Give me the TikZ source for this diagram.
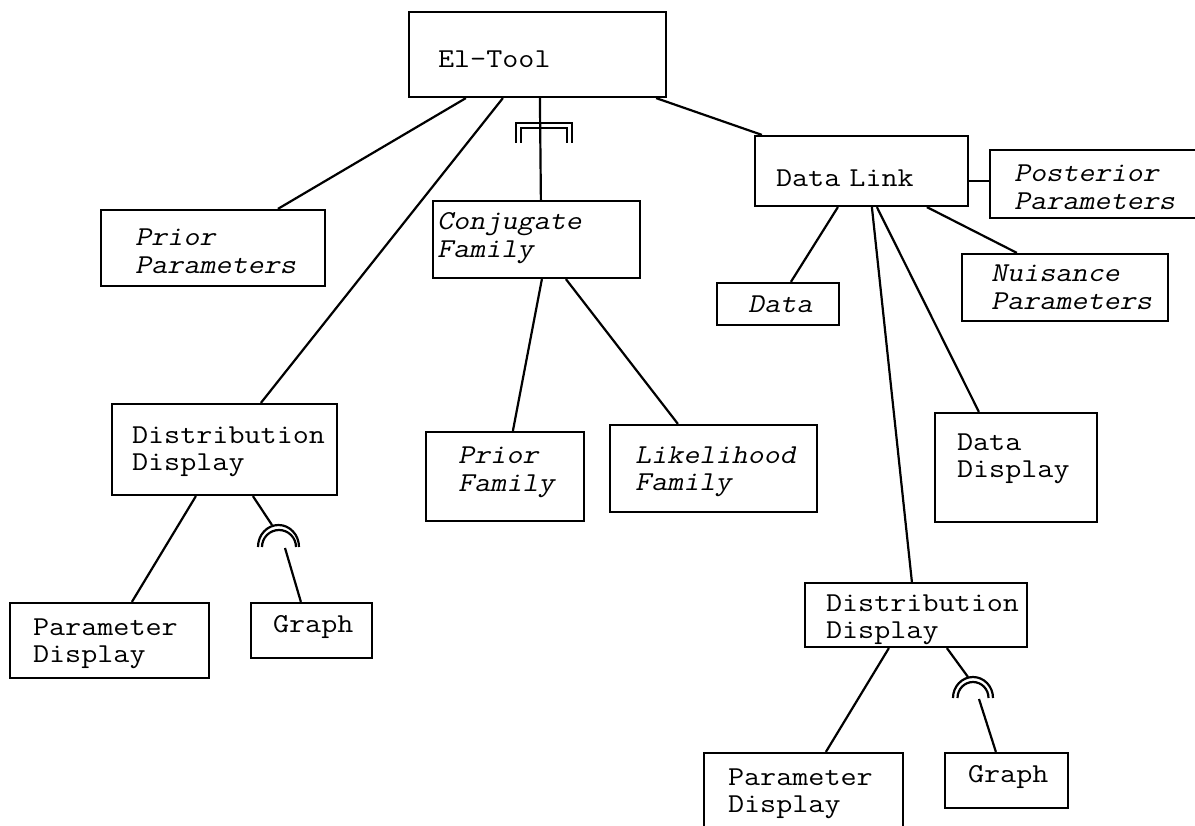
\documentclass[tikz,border=0pt]{standalone}
\usepackage{fontspec}
\newfontfamily\cour[FakeStretch=1.144]{Latin Modern Mono}
\newfontfamily\courit[FakeStretch=1.144,FakeSlant=0.21]{Latin Modern Mono}
\usetikzlibrary{calc}
\hyphenpenalty=10000
\exhyphenpenalty=10000
\begin{document}
\begin{tikzpicture}[x=1pt,y=-1pt,
  box/.style={draw, line width=2.2pt, inner ysep=0pt, align=left,
    font=\cour\fontsize{27.3}{27.5}\selectfont},
  itbox/.style={box, font=\courit\fontsize{27.3}{27.5}\selectfont},
  ln/.style={line width=2.2pt}]
\path[use as bounding box] (0,0) rectangle (1195,826);
\clip (0,0) rectangle (1195,826);

% boxes
\node[box, inner xsep=29pt, text width=199pt, text height=56pt, text depth=29pt] (eltool) at (537.5,54.5) {El-Tool};
\node[itbox, inner xsep=34pt, text width=156pt, text height=36pt, text depth=40pt] (priorp) at (213,248) {Prior\\Parameters};
\node[itbox, inner xsep=4pt, text width=199pt, text height=29pt, text depth=48pt] (conj) at (536.5,239.5) {Conjugate\\Family};
\node[box, inner xsep=21pt, text width=171pt, text height=51pt, text depth=19pt] (datalink) at (861.5,171) {Data~Link};
\node[itbox, inner xsep=24pt, text width=167pt, text height=32pt, text depth=36pt] (post) at (1097.5,184) {Posterior\\Parameters};
\node[itbox, inner xsep=29pt, text width=148pt, text height=28pt, text depth=39pt] (nuis) at (1065,287.5) {Nuisance\\Parameters};
\node[itbox, inner xsep=31pt, text width=60pt, text height=30pt, text depth=12pt] (data) at (778,304) {Data};
\node[box, inner xsep=20pt, text width=185pt, text height=39pt, text depth=52pt] (ddl) at (224.5,449.5) {Distribution\\Display};
\node[itbox, inner xsep=32pt, text width=94pt, text height=32pt, text depth=57pt] (pfam) at (505,476.5) {Prior\\Family};
\node[itbox, inner xsep=25pt, text width=157pt, text height=38pt, text depth=49pt] (lfam) at (713.5,468.5) {Likelihood\\Family};
\node[box, inner xsep=22pt, text width=118pt, text height=37pt, text depth=72pt] (ddisp) at (1016,467.5) {Data\\Display};
\node[box, inner xsep=21pt, text width=180pt, text height=28pt, text depth=36pt] (ddr) at (916,615) {Distribution\\Display};
\node[box, inner xsep=23pt, text width=153pt, text height=32pt, text depth=43pt] (pdl) at (109.5,640.5) {Parameter\\Display};
\node[box, inner xsep=22pt, text width=77pt, text height=29pt, text depth=26pt] (gl) at (311.5,630.5) {Graph};
\node[box, inner xsep=24pt, text width=151pt, text height=32pt, text depth=55pt] (pdr) at (803.5,796.5) {Parameter\\Display};
\node[box, inner xsep=23pt, text width=77pt, text height=29pt, text depth=26pt] (gr) at (1006.5,780.5) {Graph};

% connectors from El-Tool
\draw[ln] ($(eltool.south west)+(58,0)$) -- ($(priorp.north west)+(178,0)$);
\draw[ln] ($(eltool.south west)+(95,0)$) -- ($(ddl.north west)+(150,0)$);
\draw[ln] ($(eltool.south west)+(132,0)$) -- ($(conj.north west)+(109,0)$);
\draw[ln] ($(eltool.south east)+(-11,0)$) -- ($(datalink.north west)+(8,0)$);
% conjugate mark
\draw[ln] (516,143) -- (516,123) -- (572,123) -- (572,143);
\draw[ln] (521,143) -- (521,128) -- (567,128) -- (567,143);

% from Conjugate Family
\draw[ln] ($(conj.south west)+(110,0)$) -- ($(pfam.north west)+(88,0)$);
\draw[ln] ($(conj.south west)+(134,0)$) -- ($(lfam.north west)+(69,0)$);

% from Data Link
\draw[ln] ($(datalink.north east)+(0,46)$) -- ($(post.north west)+(0,32)$);
\draw[ln] ($(datalink.south west)+(84,0)$) -- ($(data.north west)+(75,0)$);
\draw[ln] ($(datalink.south west)+(118,0)$) -- ($(ddr.north west)+(108,0)$);
\draw[ln] ($(datalink.south west)+(123,0)$) -- ($(ddisp.north west)+(45,0)$);
\draw[ln] ($(datalink.south west)+(173,0)$) -- ($(nuis.north west)+(56,0)$);

% left distribution display
\coordinate (arcLtop) at (272,525);
\coordinate (arcLbot) at (285,548);
\draw[ln] ($(ddl.south west)+(85,0)$) -- ($(pdl.north west)+(123,0)$);
\draw[ln] ($(ddl.south west)+(142,0)$) -- (arcLtop);
\draw[ln] (arcLbot) -- ($(gl.north west)+(51,0)$);
\draw[ln] (258,547) arc[start angle=180, end angle=360, x radius=20.5, y radius=22];
\draw[ln] (262,547) arc[start angle=180, end angle=360, x radius=17, y radius=17];

% right distribution display
\coordinate (arcRtop) at (968,677);
\coordinate (arcRbot) at (979,699);
\draw[ln] ($(ddr.south west)+(85,0)$) -- ($(pdr.north west)+(123,0)$);
\draw[ln] ($(ddr.south west)+(143,0)$) -- (arcRtop);
\draw[ln] (arcRbot) -- ($(gr.north west)+(52,0)$);
\draw[ln] (953,698) arc[start angle=180, end angle=360, x radius=20, y radius=21];
\draw[ln] (957.5,698) arc[start angle=180, end angle=360, x radius=15.5, y radius=16];
\end{tikzpicture}
\end{document}
